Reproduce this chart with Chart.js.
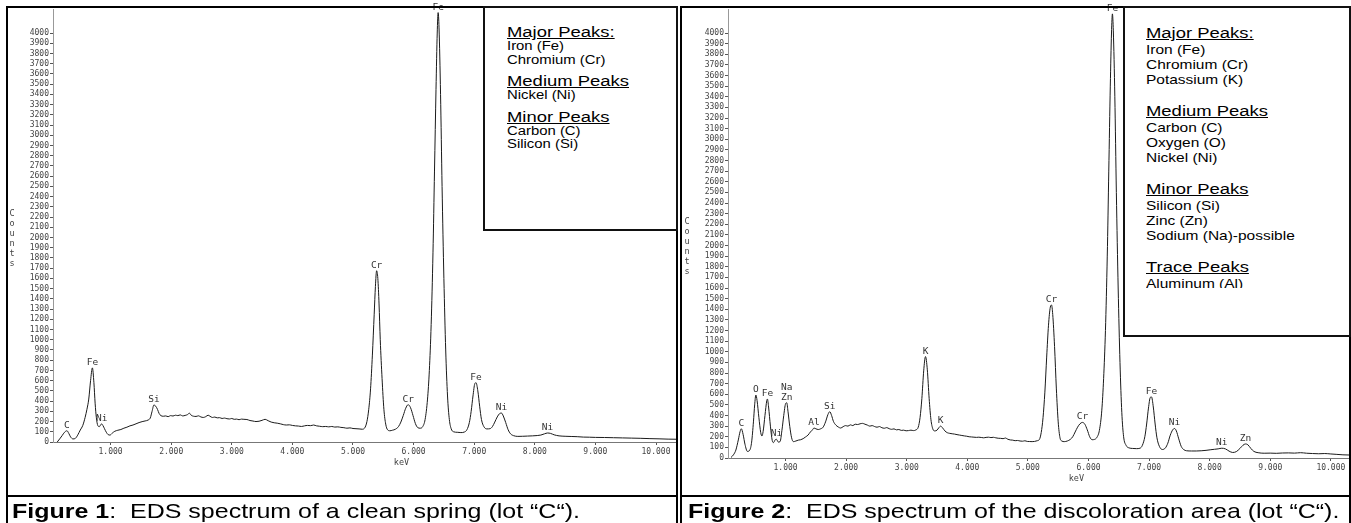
<!DOCTYPE html>
<html><head><meta charset="utf-8">
<script src="https://cdn.jsdelivr.net/npm/chart.js@4.4.1/dist/chart.umd.min.js"></script>
<style>
html,body{margin:0;padding:0;background:#fff;}
body{width:1351px;height:523px;overflow:hidden;position:relative;font-family:Arial,"Liberation Sans",sans-serif;color:#000;}
canvas{position:absolute;top:0;}
.frame{position:absolute;top:6px;height:600px;border:2px solid #000;box-sizing:border-box;}
.sep{position:absolute;top:495px;height:2px;background:#000;}
.legend{position:absolute;top:6px;border:2px solid #111;box-sizing:border-box;background:#fff;overflow:hidden;}
.clip{position:absolute;left:0;top:0;right:0;overflow:hidden;}
.inner{position:absolute;transform:scaleX(1.19);transform-origin:0 0;white-space:nowrap;}
.h{font-size:15.5px;text-decoration:underline;}
.caption{position:absolute;top:500px;font-size:21px;line-height:21px;white-space:nowrap;transform:scaleX(1.19);transform-origin:0 0;}
</style></head><body>
<canvas id="c1" width="677" height="495" style="left:0;width:677px;height:495px"></canvas>
<canvas id="c2" width="676" height="495" style="left:675px;width:676px;height:495px"></canvas>

<div class="frame" style="left:6px;width:672px"></div>
<div class="frame" style="left:680px;width:671px"></div>
<div class="sep" style="left:6px;width:672px"></div>
<div class="sep" style="left:680px;width:671px"></div>

<div class="legend" id="lg1" style="left:483px;width:195px;height:225px"><div class="clip" style="height:221px"><div class="inner" id="lg1i" style="left:22px;top:15.4px"></div></div></div>
<div class="legend" id="lg2" style="left:1123px;width:228px;height:331px"><div class="clip" style="height:280px"><div class="inner" id="lg2i" style="left:21px;top:15.1px"></div></div></div>

<div class="caption" style="left:12px"><b>Figure 1</b>:&nbsp; EDS spectrum of a clean spring (lot “C“).</div>
<div class="caption" style="left:688px"><b>Figure 2</b>:&nbsp; EDS spectrum of the discoloration area (lot “C“).</div>

<script>
// ---------- DATA ----------
const xTicks = [1, 2, 3, 4, 5, 6, 7, 8, 9, 10];
const yTicks = [0,100,200,300,400,500,600,700,800,900,1000,1100,1200,1300,1400,1500,1600,1700,1800,1900,2000,
  2100,2200,2300,2400,2500,2600,2700,2800,2900,3000,3100,3200,3300,3400,3500,3600,3700,3800,3900,4000];

// Figure 1 : clean spring
const s1Kev = [0.12,0.16,0.20,0.24,0.28,0.31,0.34,0.38,0.42,0.46,0.50,0.54,0.58,0.61,0.64,0.67,0.70,0.725,0.745,0.765,
  0.79,0.815,0.84,0.855,0.875,0.90,0.93,0.96,0.99,1.03,1.07,1.12,1.17,1.22,1.27,1.32,1.37,1.42,1.47,1.52,
  1.57,1.62,1.655,1.685,1.715,1.745,1.775,1.80,1.83,1.87,1.91,1.95,1.99,2.03,2.07,2.11,2.15,2.19,2.23,2.27,
  2.30,2.33,2.37,2.41,2.45,2.49,2.53,2.57,2.61,2.64,2.68,2.72,2.76,2.80,2.84,2.88,2.92,2.96,3.00,3.04,
  3.08,3.12,3.16,3.20,3.25,3.30,3.35,3.40,3.45,3.50,3.55,3.60,3.65,3.70,3.75,3.80,3.85,3.90,3.95,4.00,
  4.05,4.10,4.15,4.20,4.25,4.30,4.35,4.40,4.45,4.50,4.55,4.60,4.65,4.70,4.75,4.80,4.85,4.90,4.95,5.00,
  5.05,5.10,5.15,5.19,5.23,5.26,5.29,5.32,5.35,5.37,5.39,5.41,5.43,5.45,5.48,5.51,5.54,5.57,5.61,5.65,
  5.70,5.75,5.79,5.83,5.87,5.91,5.95,5.99,6.03,6.07,6.11,6.15,6.19,6.23,6.26,6.29,6.32,6.345,6.37,6.39,
  6.405,6.42,6.445,6.47,6.50,6.53,6.56,6.59,6.62,6.66,6.72,6.78,6.84,6.88,6.92,6.95,6.98,7.01,7.03,7.06,
  7.09,7.12,7.16,7.21,7.26,7.30,7.34,7.38,7.42,7.45,7.48,7.52,7.56,7.60,7.65,7.72,7.80,7.88,7.96,8.04,
  8.10,8.16,8.21,8.26,8.32,8.40,8.50,8.60,8.70,8.80,8.90,9.00,9.15,9.30,9.45,9.60,9.75,9.90,10.05,10.20,10.33];
const s1Counts = [0,30,62,95,110,85,50,30,36,70,117,160,240,320,420,600,725,580,380,240,
  160,150,172,176,160,130,95,72,68,88,105,115,122,135,145,158,166,178,190,199,
  206,215,235,300,362,350,318,280,258,252,255,248,258,254,262,258,265,255,260,268,
  282,262,252,250,256,245,240,248,262,252,240,244,236,238,230,234,228,225,230,222,
  224,218,224,222,220,210,205,200,203,212,222,208,195,188,184,178,170,166,168,162,
  158,156,152,158,162,160,166,158,154,150,152,148,152,146,148,143,140,135,138,132,
  130,128,125,135,200,320,520,850,1250,1520,1675,1600,1350,1000,620,320,175,120,110,115,
  125,150,195,260,330,365,335,260,180,140,135,150,220,420,700,1150,1850,2650,3450,4000,
  4200,4050,3400,2500,1600,900,450,220,130,100,95,92,98,120,190,300,450,570,580,500,
  350,220,150,128,130,150,195,245,278,283,255,190,120,80,62,55,56,58,60,63,
  68,80,88,84,70,60,56,54,52,48,47,45,44,42,40,38,36,33,31,28,27];
const peaks1Text = ['C','Fe','Ni','Si','Cr','Cr','Fe','Fe','Ni','Ni'];
const peaks1Kev  = [0.28,0.70,0.855,1.715,5.39,5.91,6.405,7.03,7.45,8.21];

// Figure 2 : discoloration area
const s2Kev = [0.10,0.14,0.18,0.22,0.25,0.27,0.30,0.33,0.37,0.41,0.44,0.47,0.49,0.51,0.53,0.56,0.59,0.61,0.63,0.66,
  0.69,0.70,0.72,0.75,0.78,0.80,0.83,0.85,0.88,0.91,0.94,0.97,1.00,1.02,1.04,1.07,1.10,1.13,1.17,1.21,
  1.25,1.29,1.33,1.37,1.41,1.44,1.47,1.50,1.54,1.58,1.62,1.66,1.70,1.73,1.76,1.79,1.83,1.87,1.91,1.95,
  1.99,2.03,2.07,2.11,2.15,2.19,2.23,2.27,2.31,2.35,2.39,2.43,2.47,2.51,2.55,2.59,2.63,2.67,2.71,2.75,
  2.79,2.83,2.87,2.91,2.95,2.99,3.03,3.07,3.11,3.15,3.19,3.22,3.25,3.28,3.31,3.34,3.37,3.40,3.43,3.46,
  3.50,3.53,3.56,3.59,3.63,3.67,3.71,3.75,3.79,3.83,3.87,3.91,3.95,3.99,4.03,4.07,4.11,4.15,4.19,4.23,
  4.27,4.31,4.35,4.39,4.43,4.47,4.51,4.55,4.59,4.63,4.67,4.71,4.75,4.79,4.83,4.87,4.91,4.95,4.99,5.03,
  5.07,5.11,5.15,5.19,5.22,5.25,5.28,5.31,5.34,5.37,5.39,5.41,5.44,5.47,5.50,5.53,5.56,5.60,5.65,5.70,
  5.74,5.78,5.82,5.86,5.90,5.94,5.98,6.02,6.06,6.10,6.14,6.18,6.22,6.25,6.28,6.31,6.335,6.36,6.38,6.395,
  6.41,6.435,6.46,6.49,6.52,6.55,6.58,6.62,6.67,6.73,6.79,6.85,6.89,6.93,6.96,6.99,7.02,7.04,7.07,7.10,
  7.13,7.17,7.22,7.27,7.31,7.35,7.39,7.42,7.45,7.49,7.53,7.57,7.62,7.70,7.78,7.86,7.94,8.02,8.08,8.14,
  8.20,8.26,8.32,8.38,8.44,8.50,8.55,8.59,8.63,8.68,8.73,8.80,8.90,9.00,9.10,9.20,9.30,9.40,9.50,9.60,
  9.70,9.80,9.90,10.00,10.10,10.20,10.31];
const s2Counts = [5,30,75,170,250,275,220,130,62,75,150,340,500,593,540,380,240,207,250,400,
  540,555,480,300,165,145,172,176,150,155,260,400,510,520,440,295,190,154,160,168,
  172,182,198,215,245,262,282,275,268,275,290,340,410,436,400,345,310,292,282,295,
  305,300,312,305,318,315,322,326,318,310,300,305,296,290,296,285,280,286,276,270,
  274,265,268,260,262,256,258,262,258,264,290,380,560,820,955,830,560,360,275,255,
  262,285,300,285,255,238,232,228,225,220,216,212,208,205,200,198,196,194,196,193,
  190,194,196,192,195,190,186,185,182,188,176,170,168,163,165,160,158,162,156,155,
  154,156,162,175,240,380,620,950,1250,1420,1440,1350,1050,650,340,190,160,154,160,175,
  200,245,290,322,335,318,265,200,172,175,195,260,450,750,1200,1900,2700,3500,4000,4180,
  4020,3400,2500,1600,900,430,200,120,95,90,88,92,120,200,320,470,570,575,480,320,
  190,110,80,95,140,215,265,278,255,180,110,80,68,66,66,68,72,78,82,86,
  92,86,65,52,60,90,120,132,125,90,62,50,45,46,44,47,48,46,50,45,
  42,40,42,38,34,30,28];
const peaks2Text = ['C','O','Fe','Ni','Na\nZn','Al','Si','K','K','Cr','Cr','Fe','Fe','Ni','Ni','Zn'];
const peaks2Kev  = [0.27,0.51,0.70,0.85,1.02,1.47,1.73,3.31,3.56,5.39,5.90,6.395,7.04,7.42,8.20,8.59];

const legend1 = [
  {head: 'Major Peaks:', items: ['Iron (Fe)', 'Chromium (Cr)']},
  {head: 'Medium Peaks', items: ['Nickel (Ni)']},
  {head: 'Minor Peaks',  items: ['Carbon (C)', 'Silicon (Si)']}
];
const legend2 = [
  {head: 'Major Peaks:', items: ['Iron (Fe)', 'Chromium (Cr)', 'Potassium (K)']},
  {head: 'Medium Peaks', items: ['Carbon (C)', 'Oxygen (O)', 'Nickel (Ni)']},
  {head: 'Minor Peaks',  items: ['Silicon (Si)', 'Zinc (Zn)', 'Sodium (Na)-possible']},
  {head: 'Trace Peaks',  items: ['Aluminum (Al)']}
];

// ---------- LEGENDS ----------
function buildLegend(el, groups, st) {
  groups.forEach((g, gi) => {
    const h = document.createElement('div');
    h.className = 'h'; h.textContent = g.head;
    h.style.lineHeight = st.hLH + 'px';
    if (gi) h.style.marginTop = st.gap + 'px';
    el.appendChild(h);
    g.items.forEach(t => {
      const d = document.createElement('div');
      d.textContent = t;
      d.style.fontSize = st.iFS + 'px';
      d.style.lineHeight = st.iLH + 'px';
      el.appendChild(d);
    });
  });
}
buildLegend(document.getElementById('lg1i'), legend1, {hLH: 17, iFS: 12.5, iLH: 13.7, gap: 4.6});
buildLegend(document.getElementById('lg2i'), legend2, {hLH: 19, iFS: 13, iLH: 15, gap: 14});

// ---------- CHARTS ----------
const MONO = '"DejaVu Sans Mono", "Liberation Mono", monospace';

function annotPlugin(kev, counts, pText, pKev, kevTitleAt) {
  return {
    id: 'annot',
    afterDraw(chart) {
      const {ctx, chartArea} = chart;
      const x = chart.scales.x, y = chart.scales.y;
      ctx.save();
      ctx.font = '9.5px ' + MONO;
      ctx.fillStyle = '#333';
      ctx.textAlign = 'center';
      ctx.textBaseline = 'alphabetic';
      pText.forEach((t, n) => {
        const e = pKev[n];
        let m = 0;
        kev.forEach((k, i) => { if (Math.abs(k - e) <= 0.03 && counts[i] > m) m = counts[i]; });
        const px = x.getPixelForValue(e), py = y.getPixelForValue(m);
        const lines = t.split('\n').reverse();
        lines.forEach((s, j) => ctx.fillText(s, px, py - 3 - j * 10));
      });
      ctx.font = '8.5px ' + MONO;
      ctx.fillStyle = '#444';
      ctx.fillText('keV', x.getPixelForValue(kevTitleAt), chartArea.bottom + 23);
      const cy = (y.getPixelForValue(4000) + chartArea.bottom) / 2;
      'Counts'.split('').forEach((c, i) => ctx.fillText(c, 12, cy - 25 + i * 10 + 3));
      ctx.restore();
    }
  };
}

function makeChart(id, kev, counts, pText, pKev, cfg) {
  return new Chart(document.getElementById(id), {
    type: 'line',
    data: {datasets: [{
      data: kev.map((k, i) => ({x: k, y: counts[i]})),
      borderColor: '#1a1a1a', borderWidth: 1, pointRadius: 0, fill: false,
      cubicInterpolationMode: 'monotone'
    }]},
    options: {
      responsive: false, animation: false, devicePixelRatio: 1,
      layout: {padding: {top: 9, right: cfg.right, left: 0, bottom: 0}},
      plugins: {legend: {display: false}, tooltip: {enabled: false}},
      scales: {
        x: {
          type: 'linear', min: cfg.xMin, max: cfg.xMax,
          afterBuildTicks: s => { s.ticks = xTicks.map(v => ({value: v})); },
          afterFit: s => { s.height = cfg.xh; },
          ticks: {autoSkip: false, maxRotation: 0, padding: 2, color: '#444',
                  font: {family: MONO, size: 8}, callback: v => Number(v).toFixed(3)},
          grid: {drawOnChartArea: false, tickLength: 3, color: '#555'},
          border: {color: '#777', width: 1}
        },
        y: {
          type: 'linear', min: 0, max: cfg.yMax,
          afterBuildTicks: s => { s.ticks = yTicks.map(v => ({value: v})); },
          afterFit: s => { s.width = 53; },
          ticks: {autoSkip: false, padding: 1, color: '#444',
                  font: {family: MONO, size: 8}, callback: v => String(v)},
          grid: {drawOnChartArea: false, tickLength: 3, color: '#555'},
          border: {color: '#999', width: 1}
        }
      }
    },
    plugins: [annotPlugin(kev, counts, pText, pKev, cfg.kevAt)]
  });
}

makeChart('c1', s1Kev, s1Counts, peaks1Text, peaks1Kev,
  {xMin: 0.05, xMax: 10.33, yMax: 4235, xh: 53, right: 1, kevAt: 5.80});
makeChart('c2', s2Kev, s2Counts, peaks2Text, peaks2Kev,
  {xMin: 0.05, xMax: 10.30, yMax: 4226, xh: 37, right: 2, kevAt: 5.80});
</script>
</body></html>
